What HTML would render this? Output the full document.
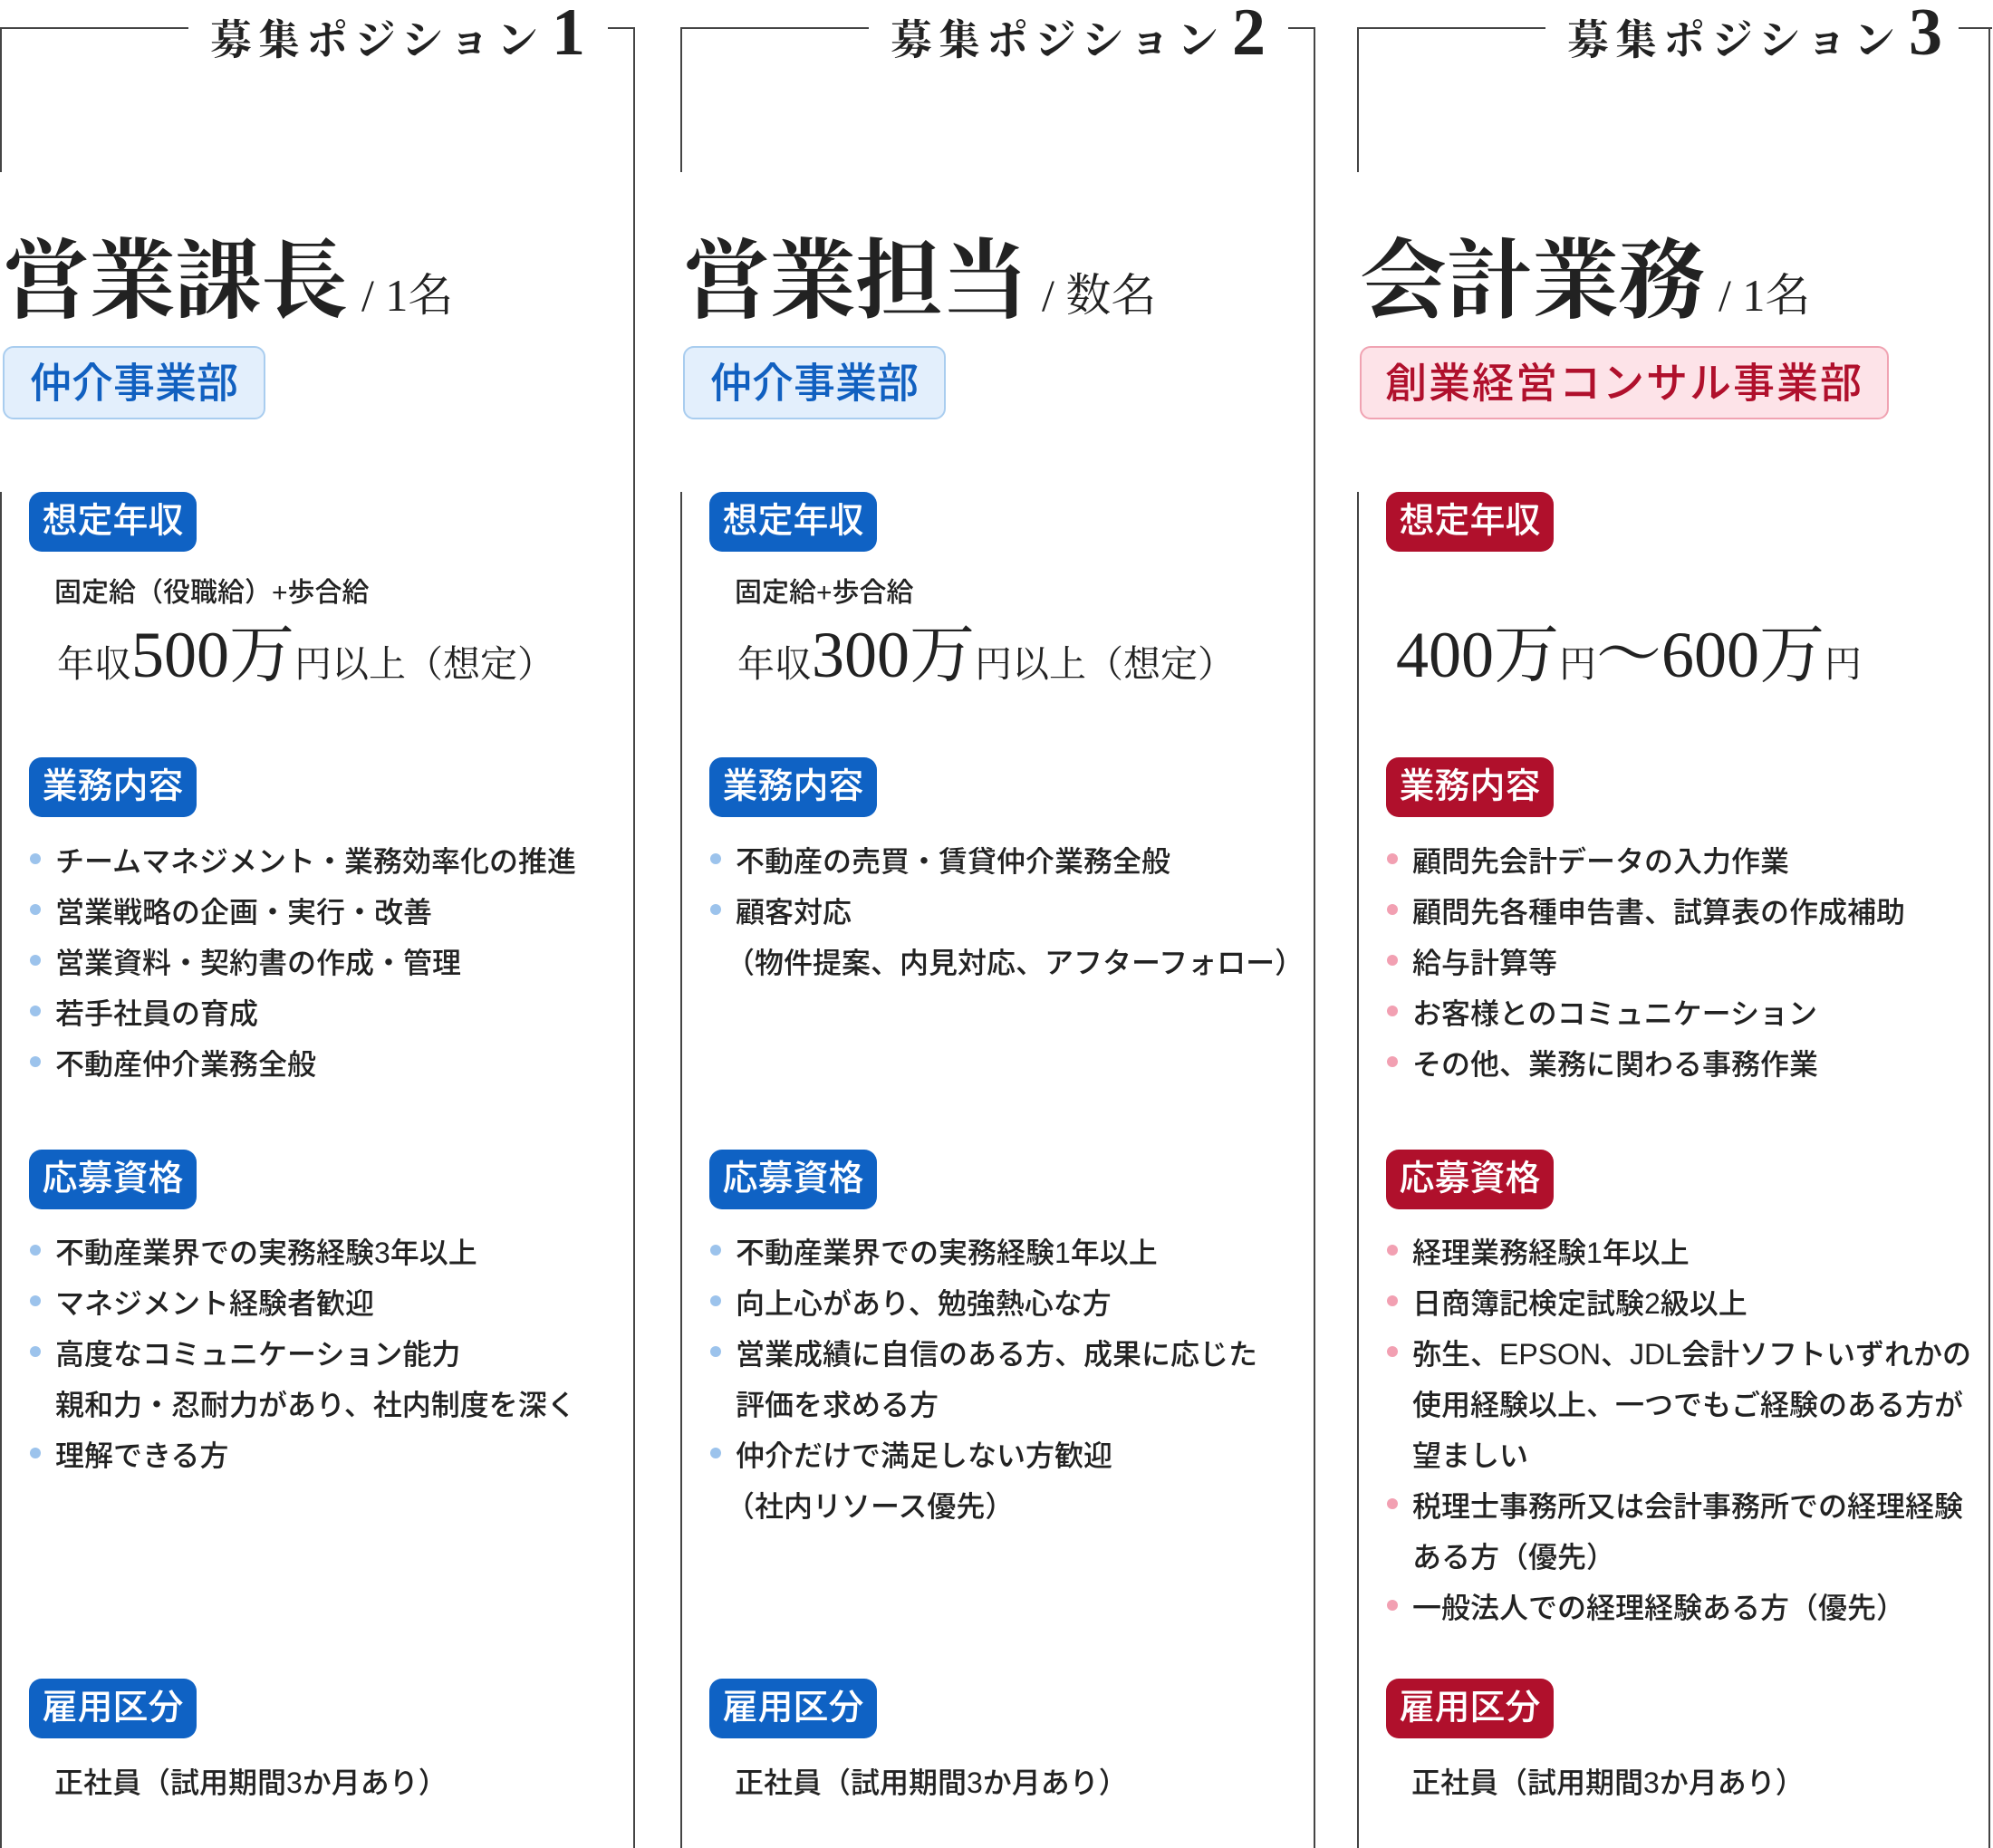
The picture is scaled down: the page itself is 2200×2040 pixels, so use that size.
<!DOCTYPE html>
<html><head><meta charset="utf-8"><style>
*{margin:0;padding:0;box-sizing:border-box}
body{width:2200px;height:2040px;background:#fff;position:relative;overflow:hidden;font-family:"Liberation Sans","Noto Sans CJK JP",sans-serif;color:#222}
.col{position:absolute;top:0;width:700px;height:2040px}
.l{position:absolute;background:#444}
.a{position:absolute;white-space:nowrap}
.serif{font-family:"Liberation Serif","Noto Serif CJK SC",serif}
.head{top:4px;left:232px;font-size:46px;font-weight:700;letter-spacing:7px;line-height:64px}
.head b{font-size:74px;letter-spacing:0;margin-left:8px}
.title{top:256px;left:3px;font-size:96px;font-weight:700;line-height:110px;letter-spacing:-1px}
.title span{font-size:50px;font-weight:400;letter-spacing:0;margin-left:16px}
.dept{left:3px;top:382px;height:81px;border-radius:12px;font-size:46px;font-weight:500;line-height:79px;padding:0 28px}
.blue .dept{background:#e3effc;border:2px solid #a9cdef;color:#1160c0}
.red .dept{background:#fde3e8;border:2px solid #f0a3b2;color:#b0102c;letter-spacing:2px;padding:0 26px}
.pill{left:32px;width:185px;height:66px;border-radius:14px;color:#fff;font-size:39px;font-weight:500;line-height:66px;text-align:center}
.blue .pill{background:#0f62c4}
.red .pill{background:#b0102c}
.t{left:61px;font-size:32px;font-weight:500;line-height:56px}
.dot{position:absolute;width:12px;height:12px;border-radius:50%;left:33px}
.blue .dot{background:#9cc3ec}
.red .dot{background:#f2a0b2}
.sal{left:63px;top:683px;line-height:80px;font-family:"Liberation Serif","Noto Serif CJK SC",serif}
.sal .s{font-size:41px}
.sal .b{font-size:72px}
</style></head><body>

<!-- Column 1 -->
<div class="col blue" style="left:0">
<div class="l" style="left:0;top:30px;width:208px;height:2px"></div>
<div class="l" style="left:671px;top:30px;width:30px;height:2px"></div>
<div class="l" style="left:699px;top:30px;width:2px;height:2010px"></div>
<div class="l" style="left:0;top:30px;width:2px;height:160px"></div>
<div class="l" style="left:0;top:543px;width:2px;height:1497px"></div>
<div class="a serif head">募集ポジション<b>1</b></div>
<div class="a serif title">営業課長<span>/ 1名</span></div>
<div class="a dept">仲介事業部</div>
<div class="a pill" style="top:543px">想定年収</div>
<div class="a t" style="top:627px;left:60px;font-size:30px">固定給（役職給）+歩合給</div>
<div class="a sal"><span class="s">年収</span><span class="b">500万</span><span class="s">円以上（想定）</span></div>
<div class="a pill" style="top:836px">業務内容</div>
<div class="dot" style="top:942px"></div><div class="a t" style="top:923px">チームマネジメント・業務効率化の推進</div>
<div class="dot" style="top:998px"></div><div class="a t" style="top:979px">営業戦略の企画・実行・改善</div>
<div class="dot" style="top:1054px"></div><div class="a t" style="top:1035px">営業資料・契約書の作成・管理</div>
<div class="dot" style="top:1110px"></div><div class="a t" style="top:1091px">若手社員の育成</div>
<div class="dot" style="top:1166px"></div><div class="a t" style="top:1147px">不動産仲介業務全般</div>
<div class="a pill" style="top:1269px">応募資格</div>
<div class="dot" style="top:1374px"></div><div class="a t" style="top:1355px">不動産業界での実務経験3年以上</div>
<div class="dot" style="top:1430px"></div><div class="a t" style="top:1411px">マネジメント経験者歓迎</div>
<div class="dot" style="top:1486px"></div><div class="a t" style="top:1467px">高度なコミュニケーション能力</div>
<div class="a t" style="top:1523px">親和力・忍耐力があり、社内制度を深く</div>
<div class="dot" style="top:1598px"></div><div class="a t" style="top:1579px">理解できる方</div>
<div class="a pill" style="top:1853px">雇用区分</div>
<div class="a t" style="top:1940px;left:60px">正社員（試用期間3か月あり）</div>
</div>

<!-- Column 2 -->
<div class="col blue" style="left:751px">
<div class="l" style="left:0;top:30px;width:208px;height:2px"></div>
<div class="l" style="left:671px;top:30px;width:30px;height:2px"></div>
<div class="l" style="left:699px;top:30px;width:2px;height:2010px"></div>
<div class="l" style="left:0;top:30px;width:2px;height:160px"></div>
<div class="l" style="left:0;top:543px;width:2px;height:1497px"></div>
<div class="a serif head">募集ポジション<b>2</b></div>
<div class="a serif title">営業担当<span>/ 数名</span></div>
<div class="a dept">仲介事業部</div>
<div class="a pill" style="top:543px">想定年収</div>
<div class="a t" style="top:627px;left:60px;font-size:30px">固定給+歩合給</div>
<div class="a sal"><span class="s">年収</span><span class="b">300万</span><span class="s">円以上（想定）</span></div>
<div class="a pill" style="top:836px">業務内容</div>
<div class="dot" style="top:942px"></div><div class="a t" style="top:923px">不動産の売買・賃貸仲介業務全般</div>
<div class="dot" style="top:998px"></div><div class="a t" style="top:979px">顧客対応</div>
<div class="a t" style="top:1035px;left:50px">（物件提案、内見対応、アフターフォロー）</div>
<div class="a pill" style="top:1269px">応募資格</div>
<div class="dot" style="top:1374px"></div><div class="a t" style="top:1355px">不動産業界での実務経験1年以上</div>
<div class="dot" style="top:1430px"></div><div class="a t" style="top:1411px">向上心があり、勉強熱心な方</div>
<div class="dot" style="top:1486px"></div><div class="a t" style="top:1467px">営業成績に自信のある方、成果に応じた</div>
<div class="a t" style="top:1523px">評価を求める方</div>
<div class="dot" style="top:1598px"></div><div class="a t" style="top:1579px">仲介だけで満足しない方歓迎</div>
<div class="a t" style="top:1635px;left:50px">（社内リソース優先）</div>
<div class="a pill" style="top:1853px">雇用区分</div>
<div class="a t" style="top:1940px;left:60px">正社員（試用期間3か月あり）</div>
</div>

<!-- Column 3 -->
<div class="col red" style="left:1498px">
<div class="l" style="left:0;top:30px;width:208px;height:2px"></div>
<div class="l" style="left:664px;top:30px;width:37px;height:2px"></div>
<div class="l" style="left:697px;top:30px;width:2px;height:2010px"></div>
<div class="l" style="left:0;top:30px;width:2px;height:160px"></div>
<div class="l" style="left:0;top:543px;width:2px;height:1497px"></div>
<div class="a serif head">募集ポジション<b>3</b></div>
<div class="a serif title">会計業務<span>/ 1名</span></div>
<div class="a dept">創業経営コンサル事業部</div>
<div class="a pill" style="top:543px">想定年収</div>
<div class="a sal" style="left:43px"><span class="b">400万</span><span class="s">円</span><span class="b">〜600万</span><span class="s">円</span></div>
<div class="a pill" style="top:836px">業務内容</div>
<div class="dot" style="top:942px"></div><div class="a t" style="top:923px">顧問先会計データの入力作業</div>
<div class="dot" style="top:998px"></div><div class="a t" style="top:979px">顧問先各種申告書、試算表の作成補助</div>
<div class="dot" style="top:1054px"></div><div class="a t" style="top:1035px">給与計算等</div>
<div class="dot" style="top:1110px"></div><div class="a t" style="top:1091px">お客様とのコミュニケーション</div>
<div class="dot" style="top:1166px"></div><div class="a t" style="top:1147px">その他、業務に関わる事務作業</div>
<div class="a pill" style="top:1269px">応募資格</div>
<div class="dot" style="top:1374px"></div><div class="a t" style="top:1355px">経理業務経験1年以上</div>
<div class="dot" style="top:1430px"></div><div class="a t" style="top:1411px">日商簿記検定試験2級以上</div>
<div class="dot" style="top:1486px"></div><div class="a t" style="top:1467px">弥生、EPSON、JDL会計ソフトいずれかの</div>
<div class="a t" style="top:1523px">使用経験以上、一つでもご経験のある方が</div>
<div class="a t" style="top:1579px">望ましい</div>
<div class="dot" style="top:1654px"></div><div class="a t" style="top:1635px">税理士事務所又は会計事務所での経理経験</div>
<div class="a t" style="top:1691px">ある方（優先）</div>
<div class="dot" style="top:1766px"></div><div class="a t" style="top:1747px">一般法人での経理経験ある方（優先）</div>
<div class="a pill" style="top:1853px">雇用区分</div>
<div class="a t" style="top:1940px;left:60px">正社員（試用期間3か月あり）</div>
</div>

</body></html>
